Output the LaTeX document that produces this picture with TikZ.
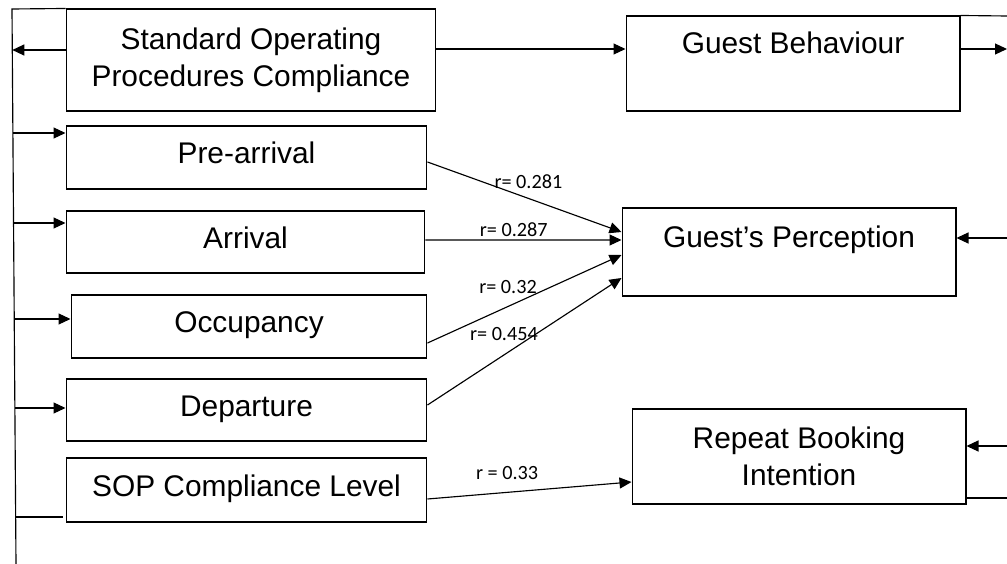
\documentclass[tikz,border=0pt]{standalone}
\usepackage{fontspec}
\setmainfont{Liberation Sans}
\newfontfamily\carlito{Carlito}
\usetikzlibrary{arrows.meta}
\tikzset{
  ramka/.style  = {draw, line width=0.6pt, align=center, inner sep=0pt,
                   font=\fontsize{17}{21}\selectfont},
  pasek/.style  = {ramka, text height=0.45cm, text depth=0.2cm},
  opis/.style   = {font=\carlito\fontsize{11.5}{13}\selectfont, inner sep=0pt},
  grot/.style   = {-{Triangle[length=2.4mm,width=2.2mm]}, line width=0.65pt},
  linia/.style  = {line width=0.65pt},
}

\begin{document}
\begin{tikzpicture}[x=0.02cm, y=-0.02cm]
      \useasboundingbox (0,0) rectangle (1007,564);

      \node[ramka, minimum width=7.4cm, minimum height=2.04cm] (sop) at (251,60)
        {Standard Operating\\Procedures Compliance};
      \node[pasek, minimum width=7.22cm, minimum height=1.26cm] (pre) at (246.5,157.5) {Pre-arrival};
      \node[pasek, minimum width=7.18cm, minimum height=1.24cm] (arr) at (245.5,242) {Arrival};
      \node[pasek, minimum width=7.12cm, minimum height=1.26cm] (occ) at (249,326.5) {Occupancy};
      \node[pasek, minimum width=7.22cm, minimum height=1.24cm] (dep) at (246.5,410) {Departure};
      \node[pasek, minimum width=7.22cm, minimum height=1.28cm] (lvl) at (246.5,490) {SOP Compliance Level};

      \node[ramka, minimum width=6.68cm, inner ysep=0.3cm, text height=0.45cm, text depth=0.85cm]
        (beh) at (793,63.5) {Guest Behaviour};
      \node[ramka, minimum width=6.68cm, inner ysep=0.34cm, text height=0.45cm, text depth=0.63cm]
        (per) at (789,252) {Guest’s Perception};
      \node[ramka, minimum width=6.68cm, minimum height=1.9cm] (rep) at (799,456.5)
        {Repeat Booking\\Intention};

      % lewa linia zbiorcza
      \coordinate (lt) at (12,9);
      \coordinate (lb) at (16,564);
      \coordinate (aS) at (12.3,50);
      \coordinate (aP) at (12.9,133);
      \coordinate (aA) at (13.5,223);
      \coordinate (aO) at (14.2,319);
      \coordinate (aD) at (14.9,408);
      \coordinate (aL) at (15.7,517);
      % prawa krawedz
      \coordinate (rT) at (1007,16);
      \coordinate (rB) at (1007,49);
      \coordinate (rP) at (1007,238);
      \coordinate (rR) at (1007,446);
      \coordinate (rL) at (1007,498);

      \draw[linia] (sop.north west) -- (lt) -- (lb);
      \draw[grot] (sop.west |- aS) -- (aS);
      \draw[grot] (aP) -- (aP -| pre.west);
      \draw[grot] (aA) -- (aA -| arr.west);
      \draw[grot] (aO) -- (aO -| occ.west);
      \draw[grot] (aD) -- (aD -| dep.west);
      \draw[linia] (aL) -- ([xshift=-0.06cm]aL -| lvl.west);

      \draw[grot] ([yshift=0.22cm]sop.east) -- ([yshift=0.22cm]sop.east -| beh.west);
      \draw[linia] (beh.north east) -- (rT);
      \draw[grot] (beh.east |- rB) -- (rB);
      \draw[grot] (rP) -- (rP -| per.east);
      \draw[grot] (rR) -- (rR -| rep.east);
      \draw[linia] (rep.east |- rL) -- (rL);

      \draw[grot] ([yshift=-0.09cm]pre.east) -- node[opis, pos=0.52, yshift=0.34cm] {r= 0.281}
        ([yshift=0.4cm]per.west);
      \draw[grot] ([yshift=0.04cm]arr.east) -- node[opis, pos=0.45, yshift=0.2cm] {r= 0.287}
        ([yshift=0.24cm]per.west);
      \draw[grot] ([yshift=-0.33cm]occ.east) -- node[opis, pos=0.415, yshift=0.39cm] {r= 0.32}
        ([yshift=-0.06cm]per.west);
      \draw[grot] ([yshift=0.1cm]dep.east) -- node[opis, pos=0.394, yshift=0.42cm] {r= 0.454}
        ([yshift=-0.52cm]per.west);
      \draw[grot] ([yshift=-0.18cm]lvl.east) -- node[opis, pos=0.39, yshift=0.39cm] {r = 0.33}
        ([yshift=-0.51cm]rep.west);
    \end{tikzpicture}
\end{document}
